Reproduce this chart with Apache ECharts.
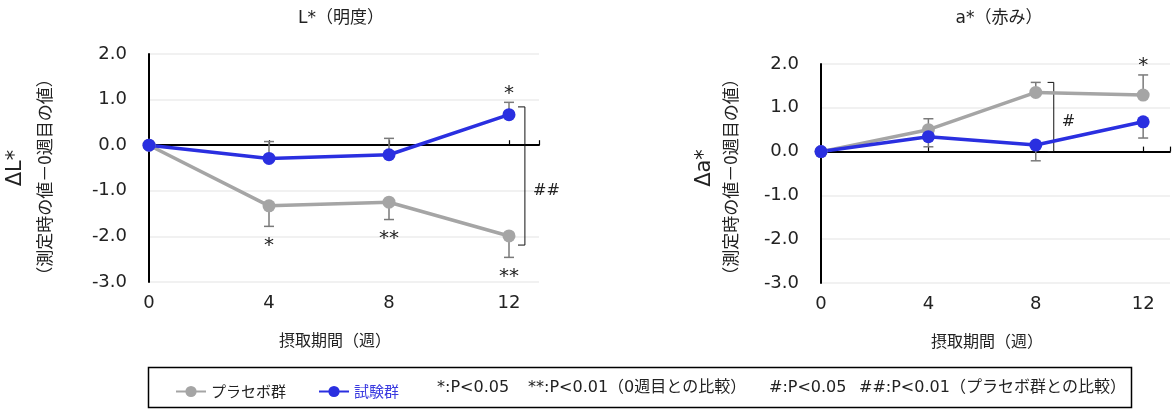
<!DOCTYPE html>
<html>
<head>
<meta charset="utf-8">
<script src="https://cdn.jsdelivr.net/npm/echarts@6/dist/echarts.min.js"></script>
<style>
  html, body { margin: 0; padding: 0; background: #fff; }
  #chart { width: 1173px; height: 410px; }
</style>
</head>
<body>
<div id="chart"></div>
<script>
// 摂取期間(週)
const weeks = [0, 4, 8, 12];
const yTicks = [-3, -2, -1, 0, 1, 2];

// ΔL* (明度)
const placeboL = [0, -1.33, -1.25, -1.99];
const placeboLsd = [0, 0.45, 0.38, 0.47];
const testL = [0, -0.29, -0.21, 0.67];
const testLsd = [0, 0.37, 0.36, 0.27];
const placeboLsig = ['', '*', '**', '**'];
const testLsig = ['', '', '', '*'];

// Δa* (赤み)
const placeboA = [0, 0.50, 1.35, 1.29];
const placeboAsd = [0, 0.25, 0.23, 0.46];
const testA = [0, 0.34, 0.15, 0.68];
const testAsd = [0, 0.23, 0.36, 0.37];
const placeboAsig = ['', '', '', '*'];
const testAsig = ['', '', '', ''];

// notes shown inside the legend box
const notes = ['*:P<0.05', '**:P<0.01（0週目との比較）', '#:P<0.05', '##:P<0.01（プラセボ群との比較）'];

const CJK = '"Noto Sans CJK JP", "Noto Sans", sans-serif';
const MIX = '"DejaVu Sans", "Noto Sans CJK JP", sans-serif';
const GRAY = '#a5a5a5';
const BLUE = '#2a2fe0';
const ERR = '#7a7a7a';
const INK = '#222';

const chart = echarts.init(document.getElementById('chart'));

// error bars drawn one-sided (dir: +1 up, -1 down), with significance marks at the cap
function errorSeries(name, vals, sds, dir, sig, gi) {
  return {
    type: 'custom',
    name: name + '_err',
    xAxisIndex: gi * 2,
    yAxisIndex: gi,
    z: 1,
    clip: false,
    silent: true,
    data: weeks.map((w, i) => [w, vals[i], sds[i]]),
    renderItem: function (params, api) {
      const i = params.dataIndex;
      const x = api.value(0), y = api.value(1), e = api.value(2);
      const p0 = api.coord([x, y]);
      const p1 = api.coord([x, y + dir * e]);
      const children = [];
      if (e > 0) {
        children.push({ type: 'line', shape: { x1: p0[0], y1: p0[1], x2: p1[0], y2: p1[1] },
          style: { stroke: ERR, lineWidth: 1.5 } });
        children.push({ type: 'line', shape: { x1: p1[0] - 5, y1: p1[1], x2: p1[0] + 5, y2: p1[1] },
          style: { stroke: ERR, lineWidth: 1.5 } });
      }
      if (sig[i]) {
        children.push({ type: 'text', x: p1[0], y: p1[1] + (dir < 0 ? 19 : -9),
          style: { text: sig[i], align: 'center', verticalAlign: 'middle',
            fontSize: 20, fontFamily: MIX, fill: INK } });
      }
      return { type: 'group', children: children };
    }
  };
}

// bracket between the two groups with its significance mark
function bracketSeries(gi, xBar, xTick, yTop, yBot, mark, xMark, yMark) {
  return {
    type: 'custom',
    xAxisIndex: gi * 2,
    yAxisIndex: gi,
    z: 1,
    clip: false,
    silent: true,
    data: [[xBar, yTop, yBot]],
    renderItem: function (params, api) {
      const a = api.coord([xTick, yTop]);
      const b = api.coord([xBar, yTop]);
      const c = api.coord([xBar, yBot]);
      const d = api.coord([xTick, yBot]);
      const m = api.coord([xMark, yMark]);
      return { type: 'group', children: [
        { type: 'polyline', shape: { points: [a, b, c, d] },
          style: { stroke: '#111', lineWidth: 1, fill: null } },
        { type: 'text', x: m[0], y: m[1],
          style: { text: mark, align: 'center', verticalAlign: 'middle',
            fontSize: 16, fontFamily: MIX, fill: INK } }
      ] };
    }
  };
}

function lineSeries(name, vals, color, gi) {
  return {
    type: 'line',
    name: name,
    xAxisIndex: gi * 2,
    yAxisIndex: gi,
    z: 3,
    data: weeks.map((w, i) => [w, vals[i]]),
    symbol: 'circle',
    symbolSize: 13,
    itemStyle: { color: color },
    lineStyle: { color: color, width: 3.5 },
    emphasis: { disabled: true },
    animation: false
  };
}

function xAxes(gi) {
  return [
    { // tick labels along the bottom
      type: 'value', gridIndex: gi, min: 0, max: 13, interval: 4, position: 'bottom',
      axisLine: { show: false, onZero: false },
      axisTick: { show: false },
      splitLine: { show: false },
      axisLabel: { fontSize: 18, color: INK, fontFamily: MIX, margin: 12,
        formatter: v => (weeks.indexOf(v) >= 0 ? String(v) : '') }
    },
    { // zero line with small ticks
      type: 'value', gridIndex: gi, min: 0, max: 13, interval: 4, position: 'top',
      axisLine: { show: true, onZero: true, lineStyle: { color: '#000', width: 1.8 } },
      axisTick: { show: true, inside: false, length: 5, lineStyle: { color: '#000', width: 1.2 } },
      axisLabel: { show: false },
      splitLine: { show: false }
    }
  ];
}

function yAxis(gi) {
  return {
    type: 'value', gridIndex: gi,
    min: yTicks[0], max: yTicks[yTicks.length - 1], interval: 1,
    axisLine: { show: true, onZero: false, lineStyle: { color: '#000', width: 2 } },
    axisTick: { show: false },
    splitLine: { show: true, lineStyle: { color: '#ededed', width: 1.5 } },
    axisLabel: { fontSize: 18, color: INK, fontFamily: MIX, margin: 22,
      formatter: v => v.toFixed(1) }
  };
}

function txt(text, x, y, size, font, extra) {
  return Object.assign({
    type: 'text', x: x, y: y,
    style: { text: text, align: 'center', verticalAlign: 'middle',
      fontSize: size, fontFamily: font, fill: INK }
  }, extra || {});
}

const noteX = [437, 528, 769, 859];

const option = {
  backgroundColor: '#fff',
  animation: false,
  textStyle: { fontFamily: CJK },
  grid: [
    { left: 149, top: 54, width: 390, height: 228 },
    { left: 821, top: 64, width: 357, height: 219 }
  ],
  xAxis: [...xAxes(0), ...xAxes(1)],
  yAxis: [yAxis(0), yAxis(1)],
  legend: {
    left: 170, top: 379,
    itemWidth: 30, itemHeight: 14, itemGap: 32,
    selectedMode: false,
    textStyle: { fontSize: 15, color: INK, fontFamily: CJK },
    data: [
      { name: 'プラセボ群' },
      { name: '試験群', textStyle: { color: '#3a3ae0' } }
    ]
  },
  series: [
    errorSeries('プラセボ群', placeboL, placeboLsd, -1, placeboLsig, 0),
    errorSeries('試験群', testL, testLsd, +1, testLsig, 0),
    bracketSeries(0, 12.53, 12.3, 0.84, -2.19, '##', 13.25, -1.0),
    lineSeries('プラセボ群', placeboL, GRAY, 0),
    lineSeries('試験群', testL, BLUE, 0),

    errorSeries('プラセボ群', placeboA, placeboAsd, +1, placeboAsig, 1),
    errorSeries('試験群', testA, testAsd, -1, testAsig, 1),
    bracketSeries(1, 8.67, 8.44, 1.58, 0, '#', 9.22, 0.67),
    lineSeries('プラセボ群', placeboA, GRAY, 1),
    lineSeries('試験群', testA, BLUE, 1)
  ],
  graphic: [
    txt('L*（明度）', 341, 19, 17, MIX),
    txt('a*（赤み）', 999, 19, 17, MIX),
    txt('摂取期間（週）', 335, 340, 16, CJK),
    txt('摂取期間（週）', 987, 341, 16, CJK),
    txt('ΔL*', 16, 168, 21, MIX, { rotation: Math.PI / 2 }),
    txt('（測定時の値－0週目の値）', 45, 177, 17, CJK, { rotation: Math.PI / 2 }),
    txt('Δa*', 705, 168, 21, MIX, { rotation: Math.PI / 2 }),
    txt('（測定時の値－0週目の値）', 731, 177, 17, CJK, { rotation: Math.PI / 2 }),
    {
      type: 'rect',
      shape: { x: 148.5, y: 367.5, width: 983, height: 40 },
      style: { fill: null, stroke: '#000', lineWidth: 1.5 }
    },
    ...notes.map((t, i) => ({
      type: 'text', x: noteX[i], y: 388,
      style: { text: t, align: 'left', verticalAlign: 'middle',
        fontSize: 16, fontFamily: MIX, fill: INK }
    }))
  ]
};

chart.setOption(option);
</script>
</body>
</html>
